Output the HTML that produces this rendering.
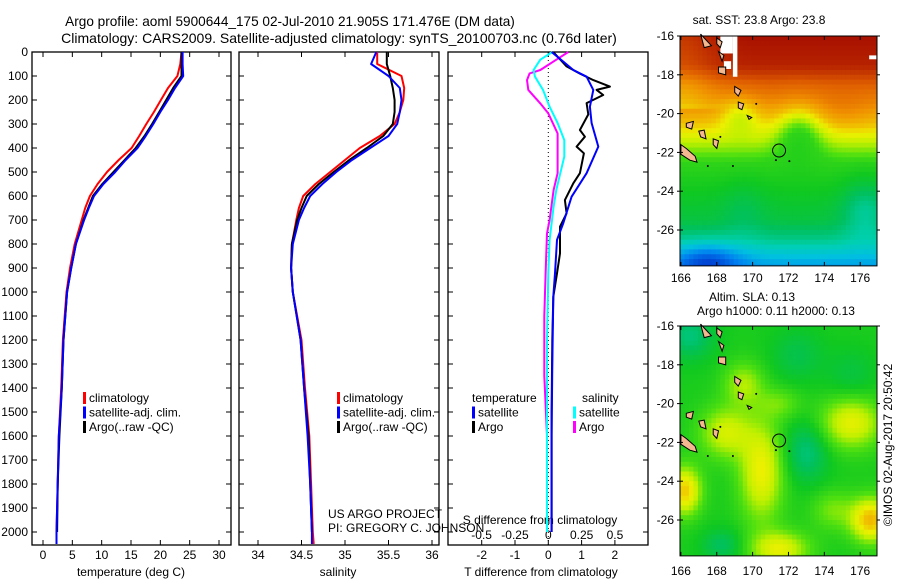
<!DOCTYPE html>
<html><head><meta charset="utf-8">
<style>
html,body{margin:0;padding:0;background:#fff;}
svg{display:block;font-family:"Liberation Sans",sans-serif;}
text{fill:#000;}
</style></head>
<body>
<svg id="fig" width="900" height="580" viewBox="0 0 900 580" xmlns="http://www.w3.org/2000/svg">
<text x="290" y="26" font-size="13.6" text-anchor="middle">Argo profile: aoml 5900644_175 02-Jul-2010 21.905S 171.476E (DM data)</text>
<text x="339" y="43" font-size="14" text-anchor="middle">Climatology: CARS2009. Satellite-adjusted climatology: synTS_20100703.nc (0.76d later)</text>
<g id="g1"></g>
<g id="g2"></g>
<g id="g3"></g>
<g id="m1"></g>
<g id="m2"></g>
<text x="328" y="518" font-size="12">US ARGO PROJECT</text>
<text x="328" y="532" font-size="12">PI: GREGORY C. JOHNSON</text>
<text transform="translate(892,445) rotate(-90)" font-size="12" text-anchor="middle">©IMOS 02-Aug-2017 20:50:42</text>
</svg>
<script>
// ---- data ----
const depths = [0,50,100,150,200,250,300,350,400,450,500,550,600,650,700,800,900,1000,1200,1400,1600,1800,2000,2050];
const tempClim = [23.6,23.4,22.9,21.3,20.1,18.9,17.6,16.4,15.1,12.9,10.9,9.3,8.0,7.2,6.6,5.4,4.6,4.0,3.4,3.1,2.7,2.5,2.3,2.3];
const tempSat  = [23.8,23.8,23.9,22.5,21.3,20.0,18.8,17.5,16.1,14.1,12.3,10.3,8.7,7.8,7.0,5.6,4.8,4.1,3.5,3.2,2.7,2.5,2.3,2.3];
const tempArgo = [23.6,23.6,23.6,22.2,21.0,19.8,18.6,17.3,15.8,13.9,12.0,10.1,8.5,7.7,6.9,5.6,4.8,4.1,3.5,3.2,2.8,2.5,2.4,2.4];
const salClim = [35.37,35.37,35.65,35.68,35.67,35.63,35.57,35.40,35.17,35.00,34.83,34.66,34.52,34.47,34.44,34.39,34.38,34.40,34.50,34.54,34.59,34.61,34.63,34.64];
const salSat  = [35.36,35.30,35.50,35.63,35.65,35.63,35.60,35.50,35.29,35.08,34.90,34.74,34.60,34.53,34.47,34.40,34.38,34.40,34.49,34.53,34.57,34.60,34.62,34.62];
const salArgo = [35.48,35.48,35.52,35.55,35.57,35.57,35.55,35.44,35.25,35.05,34.87,34.70,34.56,34.50,34.45,34.39,34.38,34.40,34.49,34.53,34.58,34.60,34.62,34.62];
const dTArgoDepth = [0,60,90,117,144,158,179,213,260,325,353,394,422,505,547,617,672,728,839,922,1020,1200,1500,1800,2000];
const dTArgo = [0.15,0.55,0.95,1.35,1.85,1.45,1.65,1.15,1.2,0.95,1.1,0.85,1.07,0.95,0.75,0.5,0.55,0.35,0.35,0.26,0.15,0.12,0.1,0.1,0.1];
const dTSatDepth = [0,40,75,103,158,228,296,394,505,603,713,783,922,1020,1300,1600,2000];
const dTSat = [0.1,0.45,0.75,1.15,1.35,1.25,1.3,1.5,1.15,0.7,0.45,0.26,0.2,0.15,0.12,0.1,0.1];
const dSSatDepth = [0,32,75,103,158,228,296,367,436,505,575,644,783,922,1200,1600,2000];
const dSSat = [0.03,-0.06,-0.11,-0.1,-0.04,0.01,0.07,0.12,0.12,0.09,0.06,0.04,0.01,0,-0.01,-0.01,-0.01];
const dSArgoDepth = [0,32,75,89,117,158,214,256,339,394,505,575,700,756,922,1100,1350,1600,2000];
const dSArgo = [0.15,0.06,-0.06,-0.14,-0.16,-0.15,-0.06,0,0.07,0.07,0.07,0.04,0.01,-0.01,-0.02,-0.03,-0.03,-0.01,-0.01];
const depthTicks = [0,100,200,300,400,500,600,700,800,900,1000,1100,1200,1300,1400,1500,1600,1700,1800,1900,2000];
const tempTicks = [0,5,10,15,20,25,30];
const salTicks = [34,34.5,35,35.5,36];
const dTTicks = [-2,-1,0,1,2];
const dSTicks = [-0.5,-0.25,0,0.25,0.5];
const dSTickLabels = ["-0.5","-0.25","0","0.25","0.5"];
const lonTicks = [166,168,170,172,174,176];
const latTicks = [-16,-18,-20,-22,-24,-26];

const NS="http://www.w3.org/2000/svg";
function mk(parent,tag,attrs){const e=document.createElementNS(NS,tag);for(const k in attrs)e.setAttribute(k,attrs[k]);parent.appendChild(e);return e;}
function sq(x){return x*x;}
const yD = d => 52 + d*0.24;
const TOP=52, BOT=545;
const xT = t => 43 + t*5.867;
const xS = s => 258 + (s-34)*87;
const xdT = t => 548.3 + t*33.3;
const xdS = s => 548.3 + s*133.3;

function frame(g,x0,x1,name){
  const r=mk(g,'rect',{x:x0,y:TOP,width:x1-x0,height:BOT-TOP,fill:'none',stroke:'#000','stroke-width':1.3});
  
  
}
function line(g,xs,ds,xf,color,name,w){
  const pts=xs.map((v,i)=>xf(v).toFixed(1)+','+yD(ds[i]).toFixed(1)).join(' ');
  const p=mk(g,'polyline',{points:pts,fill:'none',stroke:color,'stroke-width':w||2,'stroke-linejoin':'round'});
  
  
}
function xticks(g,ticks,labels,xf,y,name,top){
  ticks.forEach((t,i)=>{
    const x=xf(t);
    mk(g,'line',{x1:x,x2:x,y1:BOT,y2:BOT-5,stroke:'#000'});
    if(top) mk(g,'line',{x1:x,x2:x,y1:TOP,y2:TOP+5,stroke:'#000'});
    const tx=mk(g,'text',{x:x,y:y,'font-size':12,'text-anchor':'middle'});
    tx.textContent=labels[i];
    
    
  });
}
function legend(g,x,y,items){
  items.forEach((it,i)=>{
    const yy=y+i*14.5;
    if(it.c){mk(g,'rect',{x:x,y:yy-10,width:3,height:12,fill:it.c});}
    const t=mk(g,'text',{x:x+(it.c?6:0),y:yy,'font-size':12});
    t.textContent=it.t;
    
    
  });
}
// Panel 1
const g1=document.getElementById('g1');
frame(g1,32,231,'temperature');
depthTicks.forEach(d=>{
  const y=yD(d);
  mk(g1,'line',{x1:32,x2:37,y1:y,y2:y,stroke:'#000'});
  mk(g1,'line',{x1:231,x2:226,y1:y,y2:y,stroke:'#000'});
  const t=mk(g1,'text',{x:28,y:y+4,'font-size':12,'text-anchor':'end'});
  t.textContent=d;
  
  
});
xticks(g1,tempTicks,tempTicks.map(String),xT,559,'temperature',true);
{const t=mk(g1,'text',{x:131,y:576,'font-size':12,'text-anchor':'middle'});t.textContent='temperature (deg C)';}
line(g1,tempClim,depths,xT,'#ff0000','temp-climatology-line');
line(g1,tempArgo,depths.slice(0,23),xT,'#000000','temp-argo-line');
line(g1,tempSat,depths,xT,'#0000ff','temp-satellite-line');
legend(g1,83,402,[{c:'#ff0000',t:'climatology'},{c:'#0000ff',t:'satellite-adj. clim.'},{c:'#000',t:'Argo(..raw -QC)'}]);
// Panel 2
const g2=document.getElementById('g2');
frame(g2,239,439,'salinity');
depthTicks.forEach(d=>{const y=yD(d);mk(g2,'line',{x1:239,x2:244,y1:y,y2:y,stroke:'#000'});mk(g2,'line',{x1:439,x2:434,y1:y,y2:y,stroke:'#000'});});
xticks(g2,salTicks,salTicks.map(String),xS,559,'salinity',true);
{const t=mk(g2,'text',{x:338,y:576,'font-size':12,'text-anchor':'middle'});t.textContent='salinity';}
line(g2,salClim,depths,xS,'#ff0000','sal-climatology-line');
line(g2,salArgo,depths.slice(0,23),xS,'#000000','sal-argo-line');
line(g2,salSat,depths,xS,'#0000ff','sal-satellite-line');
legend(g2,337,402,[{c:'#ff0000',t:'climatology'},{c:'#0000ff',t:'satellite-adj. clim.'},{c:'#000',t:'Argo(..raw -QC)'}]);
// Panel 3
const g3=document.getElementById('g3');
frame(g3,448,648,'difference');
depthTicks.forEach(d=>{const y=yD(d);mk(g3,'line',{x1:448,x2:453,y1:y,y2:y,stroke:'#000'});mk(g3,'line',{x1:648,x2:643,y1:y,y2:y,stroke:'#000'});});
mk(g3,'line',{x1:xdT(0),x2:xdT(0),y1:TOP,y2:BOT,stroke:'#000','stroke-dasharray':'1,3'});
xticks(g3,dTTicks,dTTicks.map(String),xdT,559,'t-difference',true);
dSTicks.forEach((s,i)=>{const t=mk(g3,'text',{x:xdS(s),y:539,'font-size':12,'text-anchor':'middle'});t.textContent=dSTickLabels[i];});
{const t=mk(g3,'text',{x:540,y:524,'font-size':12,'text-anchor':'middle'});t.textContent='S difference from climatology';}
{const t=mk(g3,'text',{x:541,y:576,'font-size':12,'text-anchor':'middle'});t.textContent='T difference from climatology';}
line(g3,dSArgo,dSArgoDepth,xdS,'#ff00ff','s-diff-argo-line');
line(g3,dSSat,dSSatDepth,xdS,'#00ffff','s-diff-satellite-line');
line(g3,dTArgo,dTArgoDepth,xdT,'#000000','t-diff-argo-line');
line(g3,dTSat,dTSatDepth,xdT,'#0000ff','t-diff-satellite-line');
legend(g3,472,402,[{t:'temperature'},{c:'#0000ff',t:'satellite'},{c:'#000',t:'Argo'}]);
legend(g3,573,402,[{t:''},{c:'#00ffff',t:'satellite'},{c:'#ff00ff',t:'Argo'}]);
{const t=mk(g3,'text',{x:582,y:402,'font-size':12});t.textContent='salinity';}

// ---- maps ----
const stops=[[0.10,[0,48,200]],[0.20,[0,128,240]],[0.28,[0,192,224]],[0.34,[0,208,176]],[0.40,[0,192,96]],[0.46,[16,200,32]],[0.52,[80,224,16]],[0.58,[192,240,0]],[0.63,[236,240,0]],[0.68,[240,192,0]],[0.75,[240,144,0]],[0.82,[224,96,0]],[0.90,[192,48,0]],[0.97,[168,16,0]]];
function cmap(v){
  if(v<=stops[0][0])return stops[0][1];
  for(let i=1;i<stops.length;i++){if(v<=stops[i][0]){const a=stops[i-1],b=stops[i];const f=(v-a[0])/(b[0]-a[0]);return a[1].map((c,k)=>Math.round(c+(b[1][k]-c)*f));}}
  return stops[stops.length-1][1];
}
function interp(xs,ys,x){if(x>=xs[0])return ys[0];for(let i=1;i<xs.length;i++){if(x>=xs[i]){const f=(x-xs[i-1])/(xs[i]-xs[i-1]);return ys[i-1]+(ys[i]-ys[i-1])*f;}}return ys[ys.length-1];}
function gs(x,y,cx,cy,rx,ry){return Math.exp(-(sq((x-cx)/rx)+sq((y-cy)/ry)));}
const latP=[-16,-17.5,-18.5,-19.5,-20.5,-21.5,-22.5,-24,-25.5,-26.5,-27.8];
const valP=[0.97,0.93,0.82,0.76,0.68,0.58,0.49,0.46,0.43,0.37,0.24];
function sst(lon,lat){
  const le=lat - 1.6*Math.exp(-sq((lon-172.6)/1.3))*Math.exp(-sq((lat+21)/1.5))
             - 1.2*gs(lon,lat,169.3,-20,1.1,1);
  let v=interp(latP,valP,le);
  if(lat>-19.8) v-=0.08*Math.exp(-sq((lon-166)/2));
  v-=0.13*gs(lon,lat,167.5,-27.6,1.8,0.9);
  v-=0.08*gs(lon,lat,176.3,-25,1.3,1.5);
  v+=0.03*gs(lon,lat,175,-20,1.5,1);
  v-=0.03*gs(lon,lat,169.5,-25,1.2,1.5);
  return v;
}
function sla(lon,lat){
  let v=0.47;
  v-=0.09*gs(lon,lat,166.5,-16.5,1.3,1.2);
  v-=0.05*gs(lon,lat,172.5,-17.5,1.4,1.3);
  v-=0.04*gs(lon,lat,175.5,-18.5,1.4,1.3);
  v-=0.09*gs(lon,lat,173,-22.5,1.2,1.5);
  v-=0.07*gs(lon,lat,168.3,-27.3,1.1,0.8);
  v+=0.16*gs(lon,lat,170.5,-23.5,1.2,2.5);
  v+=0.13*gs(lon,lat,168.5,-21.5,1.4,1.3);
  v+=0.22*gs(lon,lat,176.6,-26,1.1,1.1);
  v+=0.2*gs(lon,lat,166.2,-24.5,0.9,1.2);
  v+=0.15*gs(lon,lat,175.5,-21,1.7,1.3);
  v+=0.15*gs(lon,lat,171.5,-27.5,1.6,0.9);
  v+=0.1*gs(lon,lat,169.5,-19,1.1,1.1);
  v+=0.07*gs(lon,lat,174.5,-25.5,1.2,1);
  v+=0.06*gs(lon,lat,171.5,-20,1.2,0.8);
  return v;
}
const islands=[
 [[166,-21.6],[166.3,-21.8],[166.8,-22.2],[166.9,-22.5],[166.5,-22.4],[166,-22.1]],
 [[167,-20.9],[167.3,-20.85],[167.4,-21.3],[167.1,-21.2]],
 [[167.8,-21.3],[168.1,-21.4],[168.0,-21.8],[167.8,-21.6]],
 [[166.3,-20.5],[166.7,-20.4],[166.6,-20.8],[166.3,-20.7]],
 [[167.1,-15.9],[167.4,-16.2],[167.7,-16.5],[167.3,-16.6]],
 [[168.0,-16.1],[168.3,-16.3],[168.2,-16.6],[168.0,-16.4]],
 [[168.1,-16.8],[168.4,-17.0],[168.3,-17.3]],
 [[168.1,-17.6],[168.5,-17.6],[168.5,-18.0],[168.1,-17.9]],
 [[169.0,-18.6],[169.35,-18.8],[169.2,-19.1],[169.0,-18.9]],
 [[169.2,-19.4],[169.5,-19.5],[169.4,-19.8],[169.2,-19.7]],
 [[169.7,-20.1],[169.95,-20.2],[169.8,-20.3]]
];
const dots=[[167.5,-22.7],[168.9,-22.7],[171.3,-22.4],[172.05,-22.45],[170.2,-19.5],[168.2,-21.2]];
function drawMap(gid,L,T,fn,labelLines,whites,lonY){
  const g=document.getElementById(gid);
  const W=197, sx=17.93, sy=19.4;
  const px=lon=>L+(lon-165.95)*sx, py=lat=>T+(-16-lat)*sy;
  const H=(27.85-16)*sy;
  const step=0.25;
  for(let lon=165.95;lon<176.95;lon+=step){
    for(let lat=-16;lat>-27.85;lat-=step){
      const col=cmap(fn(lon+step/2,lat-step/2));
      mk(g,'rect',{x:px(lon).toFixed(2),y:py(lat).toFixed(2),width:(step*sx+0.6).toFixed(2),height:(step*sy+0.6).toFixed(2),fill:'rgb('+col.join(',')+')'});
    }
  }
  mk(g,'rect',{x:L+W,y:T-2,width:20,height:H+4,fill:'#fff'});
  mk(g,'rect',{x:L-2,y:T+H,width:W+4,height:15,fill:'#fff'});
  whites.forEach(w=>mk(g,'rect',{x:px(w[0]),y:py(w[1]),width:w[2]*sx,height:w[3]*sy,fill:'#fff'}));
  islands.forEach(pl=>{
    const p=mk(g,'polygon',{points:pl.map(q=>px(q[0]).toFixed(1)+','+py(q[1]).toFixed(1)).join(' '),fill:'#f4b890',stroke:'#000','stroke-width':1});
    
    
  });
  dots.forEach(d=>mk(g,'circle',{cx:px(d[0]),cy:py(d[1]),r:1,fill:'#000'}));
  const ring=mk(g,'circle',{cx:px(171.476),cy:py(-21.905),r:6.5,fill:'none',stroke:'#000','stroke-width':1});
  
  
  mk(g,'rect',{x:L,y:T,width:W,height:H,fill:'none',stroke:'#000','stroke-width':1});
  lonTicks.forEach(lo=>{
    const x=px(lo);
    mk(g,'line',{x1:x,x2:x,y1:T+H,y2:T+H-4,stroke:'#000'});
    mk(g,'line',{x1:x,x2:x,y1:T,y2:T+4,stroke:'#000'});
    const t=mk(g,'text',{x:x,y:lonY,'font-size':12,'text-anchor':'middle'});
    t.textContent=lo;
    
    
  });
  latTicks.forEach(la=>{
    const y=py(la);
    mk(g,'line',{x1:L-3,x2:L+3,y1:y,y2:y,stroke:'#000'});
    mk(g,'line',{x1:L+W,x2:L+W+3,y1:y,y2:y,stroke:'#000'});
    const t=mk(g,'text',{x:L-6,y:y+4,'font-size':12,'text-anchor':'end'});
    t.textContent=la;
    
    
  });
  labelLines.forEach(l=>{
    const t=mk(g,'text',{x:l[0],y:l[1],'font-size':12,'text-anchor':'middle'});
    t.textContent=l[2];
    
    
  });
}
drawMap('m1',680,36,sst,[[759,24,'sat. SST: 23.8 Argo: 23.8']],[[168.2,-16,0.7,0.9],[168.9,-16,0.25,2.1],[168.4,-17.3,0.4,0.4],[176.5,-17,0.4,0.2]],282);
drawMap('m2',680,326,sla,[[752,301,'Altim. SLA: 0.13'],[776,315,'Argo h1000: 0.11 h2000: 0.13']],[],575);
</script>
</body></html>
